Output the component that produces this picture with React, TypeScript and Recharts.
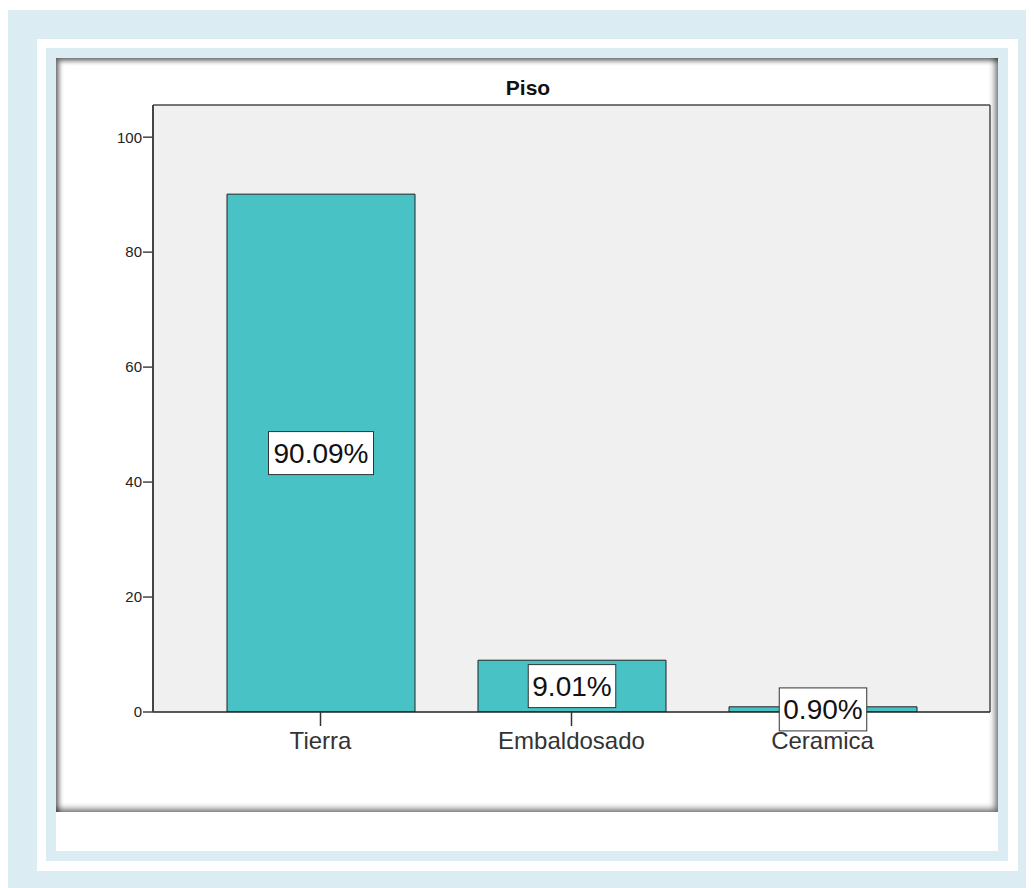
import React from "react";
import {
  BarChart,
  Bar,
  XAxis,
  YAxis,
  CartesianGrid,
  LabelList,
} from "recharts";

const categories = ["Tierra", "Embaldosado", "Ceramica"];
const percentages = [90.09, 9.01, 0.9];
const yTicks = [0, 20, 40, 60, 80, 100];
const chartTitle = "Piso";

const data = categories.map((name, i) => ({ name, value: percentages[i] }));

const FONT = "'Liberation Sans', Arial, Helvetica, sans-serif";

const PctLabel = (props: any) => {
  const { x, y, width, height, value } = props;
  const cx = Number(x) + Number(width) / 2;
  const cy = Number(y) + Number(height) / 2;
  const text = `${Number(value).toFixed(2)}%`;
  const w = text.length * 17.5;
  const h = 43;
  return (
    <g>
      <rect
        x={cx - w / 2}
        y={cy - h / 2}
        width={w}
        height={h}
        fill="#ffffff"
        stroke="#333333"
        strokeWidth={1}
      />
      <text
        x={cx}
        y={cy + 10}
        textAnchor="middle"
        fontSize={28}
        fontFamily={FONT}
        fill="#111111"
      >
        {text}
      </text>
    </g>
  );
};

const box = (
  left: number,
  top: number,
  width: number,
  height: number,
  bg: string,
  extra: React.CSSProperties = {}
): React.CSSProperties => ({
  position: "absolute",
  left,
  top,
  width,
  height,
  background: bg,
  ...extra,
});

export default function App() {
  return (
    <div style={{ position: "relative", width: 1026, height: 880 }}>
      <div style={box(0, 2, 1026, 878, "#dbedf3")} />
      <div style={box(29, 31, 981, 832, "#ffffff")} />
      <div style={box(38, 40, 962, 813, "#dbedf3")} />
      <div style={box(48, 50, 942, 793, "#ffffff")} />
      <div
        style={box(48, 50, 942, 754, "#ffffff", {
          boxShadow:
            "inset 3px 3px 5px rgba(0,0,0,0.55), inset -3px -3px 6px rgba(0,0,0,0.55)",
        })}
      />
      <div style={{ position: "absolute", left: 48, top: 50 }}>
        <BarChart
          width={942}
          height={754}
          data={data}
          margin={{ top: 47, right: 8, bottom: 0, left: 37 }}
          barSize={188}
        >
          <CartesianGrid
            fill="#f0f0f0"
            stroke="#4a4a4a"
            strokeWidth={1.5}
            horizontalCoordinatesGenerator={(p: any) => [p.offset.top]}
            verticalCoordinatesGenerator={(p: any) => [
              p.offset.left + p.offset.width,
            ]}
          />
          <text
            x={472}
            y={37}
            textAnchor="middle"
            fontSize={21}
            fontWeight="bold"
            fontFamily={FONT}
            fill="#111111"
          >
            {chartTitle}
          </text>
          <XAxis
            dataKey="name"
            height={100}
            padding={{ left: 42, right: 42 }}
            axisLine={{ stroke: "#222222", strokeWidth: 1.5 }}
            tickLine={{ stroke: "#333333", strokeWidth: 1.5 }}
            tickSize={14}
            tickMargin={6}
            tick={{ fontSize: 24, fontFamily: FONT, fill: "#333333" }}
            interval={0}
          />
          <YAxis
            width={60}
            domain={[0, 105.6]}
            ticks={yTicks}
            axisLine={{ stroke: "#444444", strokeWidth: 2 }}
            tickLine={{ stroke: "#444444", strokeWidth: 1.5 }}
            tickSize={10}
            tickMargin={1}
            tick={{ fontSize: 15, fontFamily: FONT, fill: "#222222" }}
            allowDataOverflow
          />
          <Bar
            dataKey="value"
            fill="#48c2c5"
            stroke="#222222"
            strokeWidth={1}
            isAnimationActive={false}
          >
            <LabelList dataKey="value" content={<PctLabel />} />
          </Bar>
        </BarChart>
      </div>
    </div>
  );
}
